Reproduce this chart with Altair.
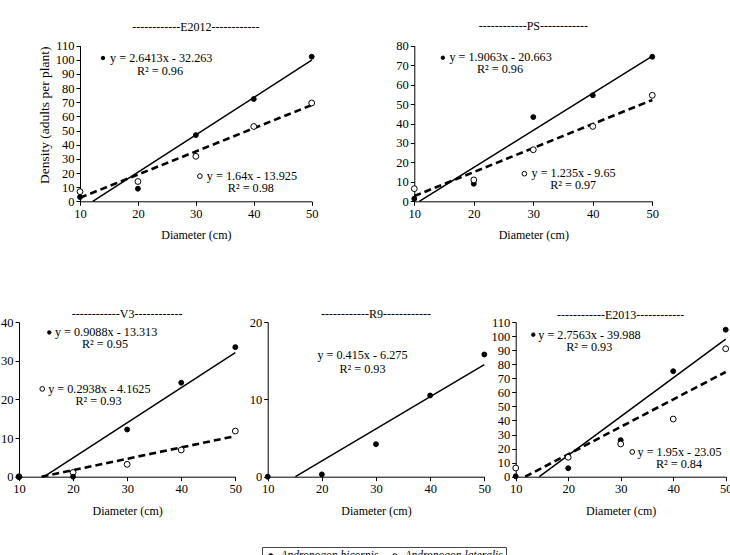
import altair as alt
import pandas as pd

W, H = 730, 555
FONT = "Liberation Serif"

# ---------------- data ----------------
diameter = [10, 20, 30, 40, 50]
species = ["Andropogon bicornis", "Andropogon lateralis"]

e2012_bicornis = [3, 8.9, 46.8, 72.3, 102.2]
e2012_lateralis = [6.8, 14, 31.8, 52.9, 69.5]
ps_bicornis = [1.3, 9, 43.3, 54.5, 74.3]
ps_lateralis = [6.5, 11, 26.5, 38.5, 54.5]
v3_bicornis = [0, 0, 12.2, 24.3, 33.5]
v3_lateralis = [0, 1.1, 3.2, 6.9, 11.8]
r9_bicornis = [0, 0.3, 4.2, 10.5, 15.8]
e2013_bicornis = [0.3, 6, 26, 75, 104.5]
e2013_lateralis = [6.2, 13.8, 23.3, 41, 91]

# trend line end points (x, y)
e2012_fit_bicornis_x, e2012_fit_bicornis_y = [12.2, 50], [0, 99.8]
e2012_fit_lateralis_x, e2012_fit_lateralis_y = [10, 50], [2.5, 68]
ps_fit_bicornis_x, ps_fit_bicornis_y = [10.84, 50], [0, 74.6]
ps_fit_lateralis_x, ps_fit_lateralis_y = [10, 50], [2.7, 52.1]
v3_fit_bicornis_x, v3_fit_bicornis_y = [14.65, 50], [0, 32.1]
v3_fit_lateralis_x, v3_fit_lateralis_y = [14.17, 50], [0, 10.5]
r9_fit_bicornis_x, r9_fit_bicornis_y = [15.12, 50], [0, 14.5]
e2013_fit_bicornis_x, e2013_fit_bicornis_y = [14.5, 50], [0, 97.8]
e2013_fit_lateralis_x, e2013_fit_lateralis_y = [11.82, 50], [0, 74.45]

panel_titles = ["------------E2012------------", "------------PS------------",
                "------------V3------------", "------------R9------------",
                "------------E2013------------"]
e2012_eq = ["y = 2.6413x - 32.263", "y = 1.64x - 13.925"]
e2012_r2 = ["R\u00b2 = 0.96", "R\u00b2 = 0.98"]
ps_eq = ["y = 1.9063x - 20.663", "y = 1.235x - 9.65"]
ps_r2 = ["R\u00b2 = 0.96", "R\u00b2 = 0.97"]
v3_eq = ["y = 0.9088x - 13.313", "y = 0.2938x - 4.1625"]
v3_r2 = ["R\u00b2 = 0.95", "R\u00b2 = 0.93"]
r9_eq = ["y = 0.415x - 6.275"]
r9_r2 = ["R\u00b2 = 0.93"]
e2013_eq = ["y = 2.7563x - 39.988", "y = 1.95x - 23.05"]
e2013_r2 = ["R\u00b2 = 0.93", "R\u00b2 = 0.84"]

y_title = "Density (adults per plant)"
x_title = "Diameter (cm)"

# ---------------- layout (pixel positions of each panel) ----------------
panels = [
    dict(title=panel_titles[0], x0=80, x1=311.7, y0=201.3, y1=45.7, ymax=110,
         yticks=list(range(0, 111, 10)), title_y=123, ytitle=True,
         series={"Andropogon bicornis": e2012_bicornis, "Andropogon lateralis": e2012_lateralis},
         fits=[(e2012_fit_bicornis_x, e2012_fit_bicornis_y, False),
               (e2012_fit_lateralis_x, e2012_fit_lateralis_y, True)],
         ann=[dict(sp=species[0], mk=(13.97, 101.3), eq=e2012_eq[0], eq_at=(15.2, 101.3), r2=e2012_r2[0], r2_at=(23.8, 92.2)),
              dict(sp=species[1], mk=(30.7, 17.8), eq=e2012_eq[1], eq_at=(31.9, 17.8), r2=e2012_r2[1], r2_at=(39.5, 9.3))]),
    dict(title=panel_titles[1], x0=414.3, x1=652.3, y0=201.3, y1=45.7, ymax=80,
         yticks=list(range(0, 81, 10)), title_y=90.2, ytitle=False,
         series={"Andropogon bicornis": ps_bicornis, "Andropogon lateralis": ps_lateralis},
         fits=[(ps_fit_bicornis_x, ps_fit_bicornis_y, False),
               (ps_fit_lateralis_x, ps_fit_lateralis_y, True)],
         ann=[dict(sp=species[0], mk=(14.8, 73.8), eq=ps_eq[0], eq_at=(15.9, 74.2), r2=ps_r2[0], r2_at=(24.4, 67.9)),
              dict(sp=species[1], mk=(28.5, 14.2), eq=ps_eq[1], eq_at=(29.7, 14.4), r2=ps_r2[1], r2_at=(36.7, 8.4))]),
    dict(title=panel_titles[2], x0=19, x1=235.3, y0=476.7, y1=322, ymax=40,
         yticks=[0, 10, 20, 30, 40], title_y=42, ytitle=False,
         series={"Andropogon lateralis": v3_lateralis, "Andropogon bicornis": v3_bicornis},
         fits=[(v3_fit_bicornis_x, v3_fit_bicornis_y, False),
               (v3_fit_lateralis_x, v3_fit_lateralis_y, True)],
         ann=[dict(sp=species[0], mk=(15.6, 37.3), eq=v3_eq[0], eq_at=(16.65, 37.3), r2=v3_r2[0], r2_at=(25.9, 34.2)),
              dict(sp=species[1], mk=(14.3, 22.7), eq=v3_eq[1], eq_at=(15.4, 22.7), r2=v3_r2[1], r2_at=(24.7, 19.6))]),
    dict(title=panel_titles[3], x0=267.7, x1=484.3, y0=476.7, y1=322, ymax=20,
         yticks=[0, 10, 20], title_y=21, ytitle=False,
         series={"Andropogon bicornis": r9_bicornis},
         fits=[(r9_fit_bicornis_x, r9_fit_bicornis_y, False)],
         ann=[dict(sp=None, mk=None, eq=r9_eq[0], eq_at=(27.5, 15.7), r2=r9_r2[0], r2_at=(27.5, 13.9))]),
    dict(title=panel_titles[4], x0=515.7, x1=725.7, y0=476.7, y1=322, ymax=110,
         yticks=list(range(0, 111, 10)), title_y=115, ytitle=False,
         series={"Andropogon bicornis": e2013_bicornis, "Andropogon lateralis": e2013_lateralis},
         fits=[(e2013_fit_bicornis_x, e2013_fit_bicornis_y, False),
               (e2013_fit_lateralis_x, e2013_fit_lateralis_y, True)],
         ann=[dict(sp=species[0], mk=(13.35, 101), eq=e2013_eq[0], eq_at=(14.3, 101), r2=e2013_r2[0], r2_at=(24, 92.5)),
              dict(sp=species[1], mk=(32.2, 17.6), eq=e2013_eq[1], eq_at=(33.2, 17.6), r2=e2013_r2[1], r2_at=(41.1, 9))]),
]

common_axis = dict(grid=False, domainColor="black", domainWidth=1, tickColor="black",
                   tickSize=4, tickWidth=1, labelFont=FONT, labelFontSize=12.5,
                   labelColor="black", labelPadding=2, labelOverlap=False, labelFlush=False,
                   titleFont=FONT, titleFontWeight="normal", titleColor="black")

legend = alt.Legend(orient="none", legendX=262, legendY=547, direction="horizontal",
                    title=None, padding=3, strokeColor="#444444", fillColor="white",
                    labelFont=FONT, labelFontStyle="italic", labelFontSize=11.5,
                    labelColor="black", labelOffset=4, columnPadding=10,
                    symbolType="circle", symbolSize=22, symbolStrokeColor="black",
                    symbolStrokeWidth=1)

fill_scale = alt.Scale(domain=species, range=["black", "white"])


def build_panel(p):
    xscale = alt.Scale(domain=[10, 50], range=[p["x0"], p["x1"]], nice=False, zero=False)
    yscale = alt.Scale(domain=[0, p["ymax"]], range=[p["y0"], p["y1"]], nice=False, zero=False)
    xaxis = alt.Axis(orient="bottom", offset=p["y0"] - H, values=diameter, title=x_title,
                     titleFontSize=12, titlePadding=10, **common_axis)
    yk = dict(orient="left", offset=-p["x0"], values=p["yticks"], **common_axis)
    if p["ytitle"]:
        yk.update(title=y_title, titleFontSize=13.5, titlePadding=3.5, titleY=114.7)
    else:
        yk.update(title=None)
    yaxis = alt.Axis(**yk)

    def X():
        return alt.X("x:Q", scale=xscale, axis=xaxis)

    def Y():
        return alt.Y("y:Q", scale=yscale, axis=yaxis)

    layers = []
    # trend lines
    for fx, fy, dashed in p["fits"]:
        df = pd.DataFrame({"x": fx, "y": fy})
        if dashed:
            m = alt.Chart(df).mark_line(color="black", strokeWidth=2.6, strokeDash=[7, 4])
        else:
            m = alt.Chart(df).mark_line(color="black", strokeWidth=1.5)
        layers.append(m.encode(x=X(), y=Y()))
    # observed points
    for sp, vals in p["series"].items():
        df = pd.DataFrame({"x": diameter, "y": vals, "species": sp})
        size = 24 if sp == species[0] else 34
        layers.append(
            alt.Chart(df).mark_point(filled=True, shape="circle", stroke="black",
                                     strokeWidth=1, opacity=1, size=size)
            .encode(x=X(), y=Y(), fill=alt.Fill("species:N", scale=fill_scale, legend=legend))
        )
    # equation markers
    for a in p["ann"]:
        if a["mk"] is None:
            continue
        df = pd.DataFrame({"x": [a["mk"][0]], "y": [a["mk"][1]], "species": [a["sp"]]})
        size = 12 if a["sp"] == species[0] else 22
        layers.append(
            alt.Chart(df).mark_point(filled=True, shape="circle", stroke="black",
                                     strokeWidth=1, opacity=1, size=size)
            .encode(x=X(), y=Y(), fill=alt.Fill("species:N", scale=fill_scale, legend=legend))
        )
    # equations
    left = [a for a in p["ann"] if a["mk"] is not None]
    centered = [a for a in p["ann"] if a["mk"] is None]
    if left:
        df = pd.DataFrame({"x": [a["eq_at"][0] for a in left], "y": [a["eq_at"][1] for a in left],
                           "t": [a["eq"] for a in left]})
        layers.append(alt.Chart(df).mark_text(font=FONT, fontSize=12.2, color="black", align="left",
                                              baseline="middle")
                      .encode(x=X(), y=Y(), text="t:N"))
    r2 = [(a["r2_at"][0], a["r2_at"][1], a["r2"]) for a in p["ann"]]
    r2 += [(a["eq_at"][0], a["eq_at"][1], a["eq"]) for a in centered]
    df = pd.DataFrame({"x": [r[0] for r in r2], "y": [r[1] for r in r2], "t": [r[2] for r in r2]})
    layers.append(alt.Chart(df).mark_text(font=FONT, fontSize=12.2, color="black", align="center",
                                          baseline="middle")
                  .encode(x=X(), y=Y(), text="t:N"))
    # panel title
    df = pd.DataFrame({"x": [30], "y": [p["title_y"]], "t": [p["title"]]})
    layers.append(alt.Chart(df).mark_text(font=FONT, fontSize=12, color="black", align="center",
                                          baseline="middle")
                  .encode(x=X(), y=Y(), text="t:N"))
    return alt.layer(*layers)


chart = (
    alt.layer(*[build_panel(p) for p in panels])
    .resolve_scale(x="independent", y="independent")
    .resolve_axis(x="independent", y="independent")
    .properties(width=W, height=H, autosize=alt.AutoSizeParams(type="none"), padding=0,
                background="white")
    .configure_view(strokeWidth=0)
)

chart.save("out.html", embed_options={"renderer": "svg", "actions": False})
